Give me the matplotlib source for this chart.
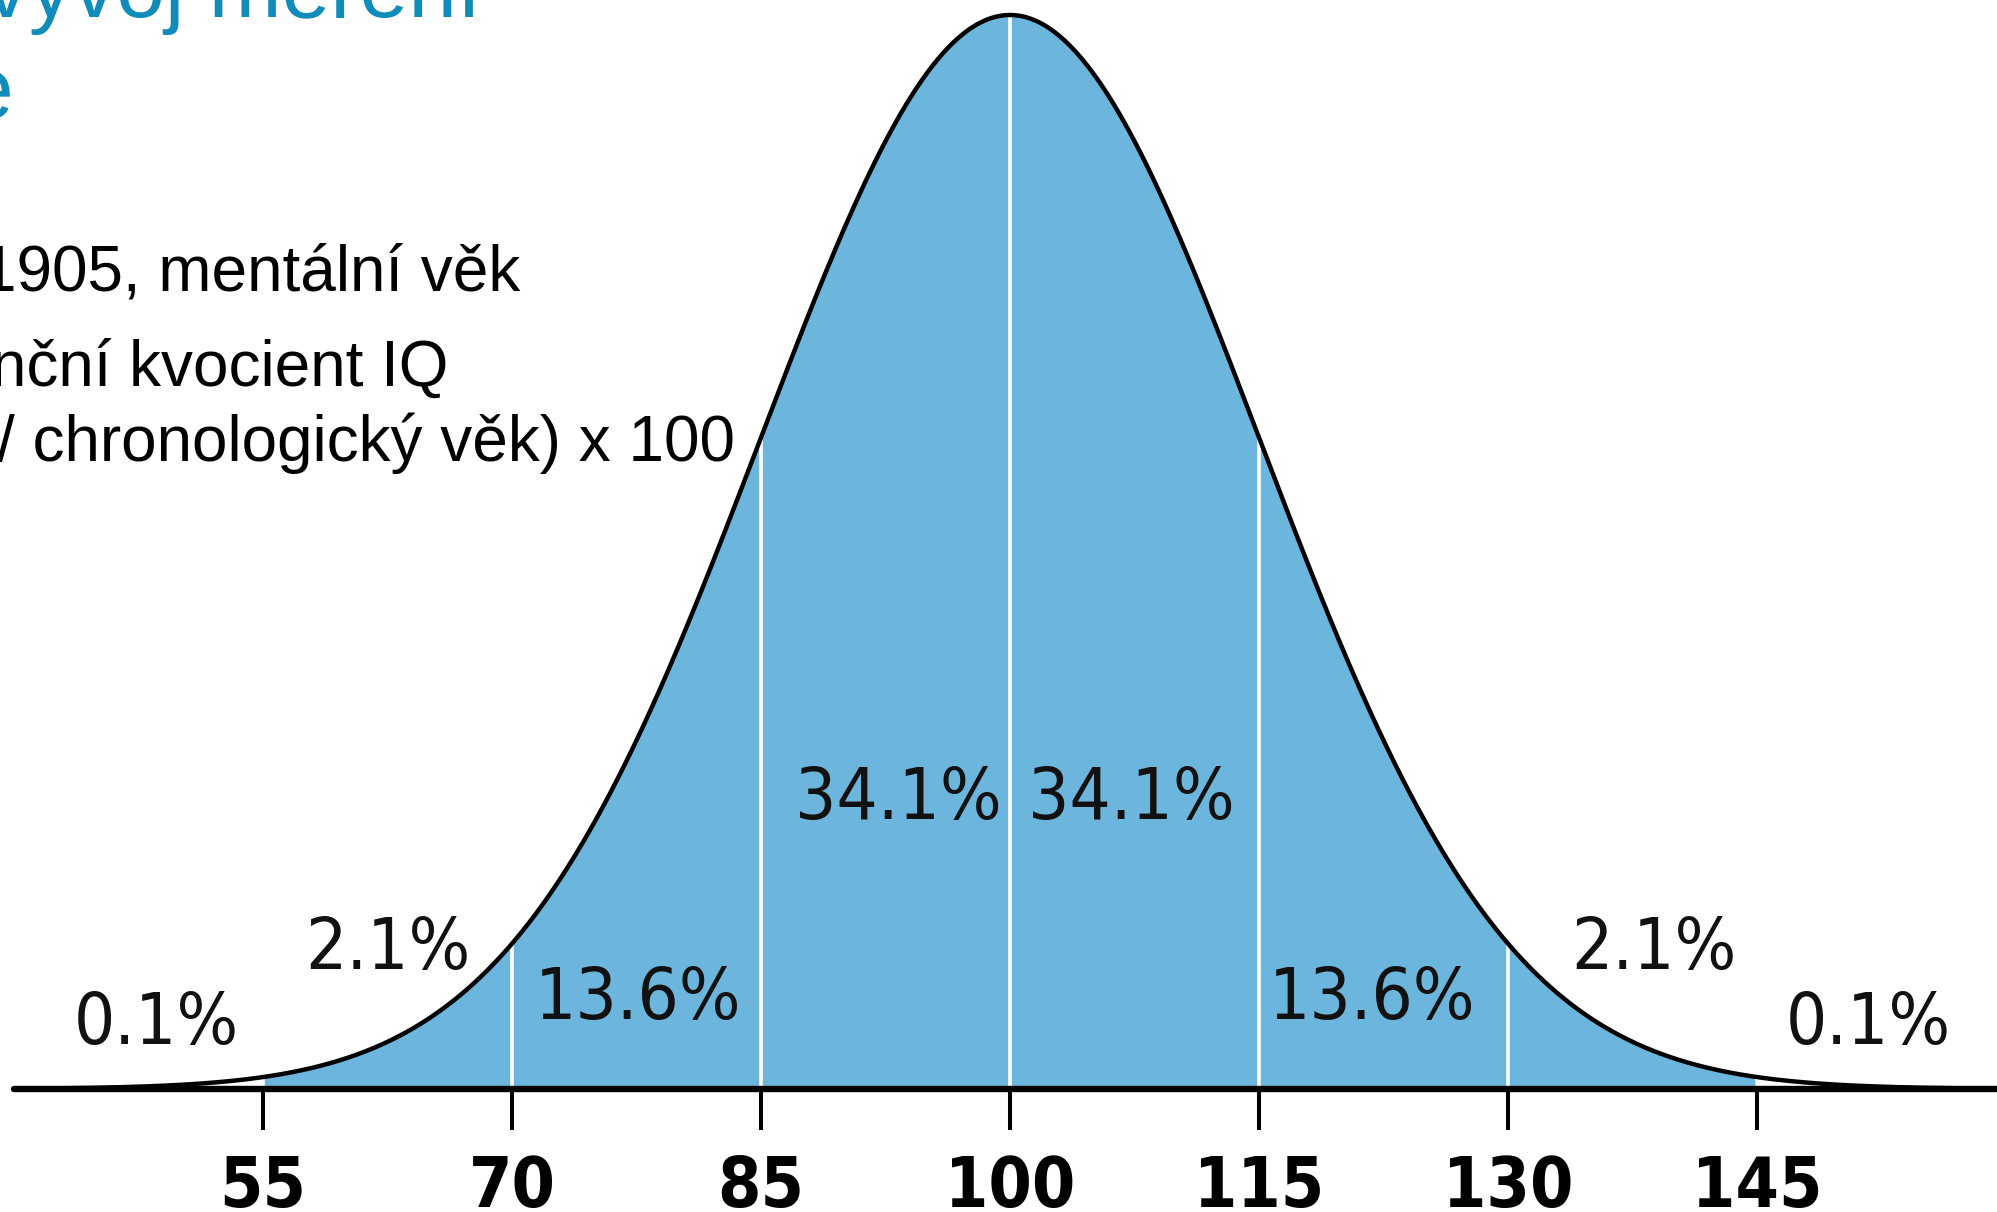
import numpy as np
import matplotlib.pyplot as plt
from matplotlib import font_manager

# IQ normal distribution (mean 100, sd 15)
mean = 100
sd = 15
iq_ticks = [55, 70, 85, 100, 115, 130, 145]
pct_labels = ['0.1%', '2.1%', '13.6%', '34.1%', '34.1%', '13.6%', '2.1%', '0.1%']
pct_x = [48.6, 62.5, 77.6, 93.3, 107.3, 121.8, 138.8, 151.7]
pct_y = [0.06, 0.13, 0.083, 0.27, 0.27, 0.083, 0.13, 0.06]

title_lines = ['vývoj měření', 'e']
body_lines = ['1905, mentální věk', 'nční kvocient IQ', '/ chronologický věk) x 100']

plt.rcParams['font.family'] = ['Liberation Sans', 'DejaVu Sans']

# chart labels use DejaVu Sans Condensed when it is installed
cond = font_manager.findfont(font_manager.FontProperties(family='DejaVu Sans', stretch='condensed'))
has_cond = 'Condensed' in cond
pct_size = 52 if has_cond else 47
tick_size = 50 if has_cond else 45

W, H = 1997, 1212
fig = plt.figure(figsize=(W / 100, H / 100), dpi=100)
ax = fig.add_axes([0, 0, 1, 1])

# pixel -> data mapping: x=100 at px 1010, 16.6 px per IQ point; baseline py 1089, peak py 15
ax.set_xlim(100 - 1010 / 16.6, 100 + (W - 1010) / 16.6)
ax.set_ylim((1089 - H) / 1074, 1089 / 1074)

x = np.linspace(40, 160, 1200)
y = np.exp(-0.5 * ((x - mean) / sd) ** 2)

fill = (x >= iq_ticks[0]) & (x <= iq_ticks[-1])
ax.fill_between(x[fill], 0, y[fill], color='#6cb6de', lw=0, zorder=1)
for t in iq_ticks:
    ax.plot([t, t], [0, np.exp(-0.5 * ((t - mean) / sd) ** 2)], color='white', lw=2.6, zorder=2)
ax.plot(x, y, color='black', lw=3.2, zorder=3, solid_capstyle='round')

for s, px, py in zip(pct_labels, pct_x, pct_y):
    ax.text(px, py, s, ha='center', va='center', fontsize=pct_size, color='#111111', zorder=4,
            family='DejaVu Sans', fontstretch='condensed')

for name in ['top', 'left', 'right']:
    ax.spines[name].set_visible(False)
ax.spines['bottom'].set_position(('data', 0))
ax.spines['bottom'].set_bounds(40, 160)
ax.spines['bottom'].set_linewidth(4.6)
ax.spines['bottom'].set_capstyle('round')
ax.spines['bottom'].set_zorder(5)
ax.set_yticks([])
ax.set_xticks(iq_ticks)
ax.set_xticklabels([str(t) for t in iq_ticks], fontsize=tick_size, fontweight='bold',
                   family='DejaVu Sans', fontstretch='condensed')
ax.tick_params(axis='x', direction='out', length=29.5, width=2.9, pad=17)

# slide text cut off at left edge
fig.text(481 / W, 1 - 17 / H, title_lines[0], ha='right', va='baseline', fontsize=63, color='#108cbb')
fig.text(13 / W, 1 - 118 / H, title_lines[1], ha='right', va='baseline', fontsize=63, color='#108cbb')
fig.text(520 / W, 1 - 290 / H, body_lines[0], ha='right', va='baseline', fontsize=46, color='black')
fig.text(448 / W, 1 - 386 / H, body_lines[1], ha='right', va='baseline', fontsize=46, color='black')
fig.text(735 / W, 1 - 461 / H, body_lines[2], ha='right', va='baseline', fontsize=46, color='black')

fig.savefig('out.png', dpi=100)
